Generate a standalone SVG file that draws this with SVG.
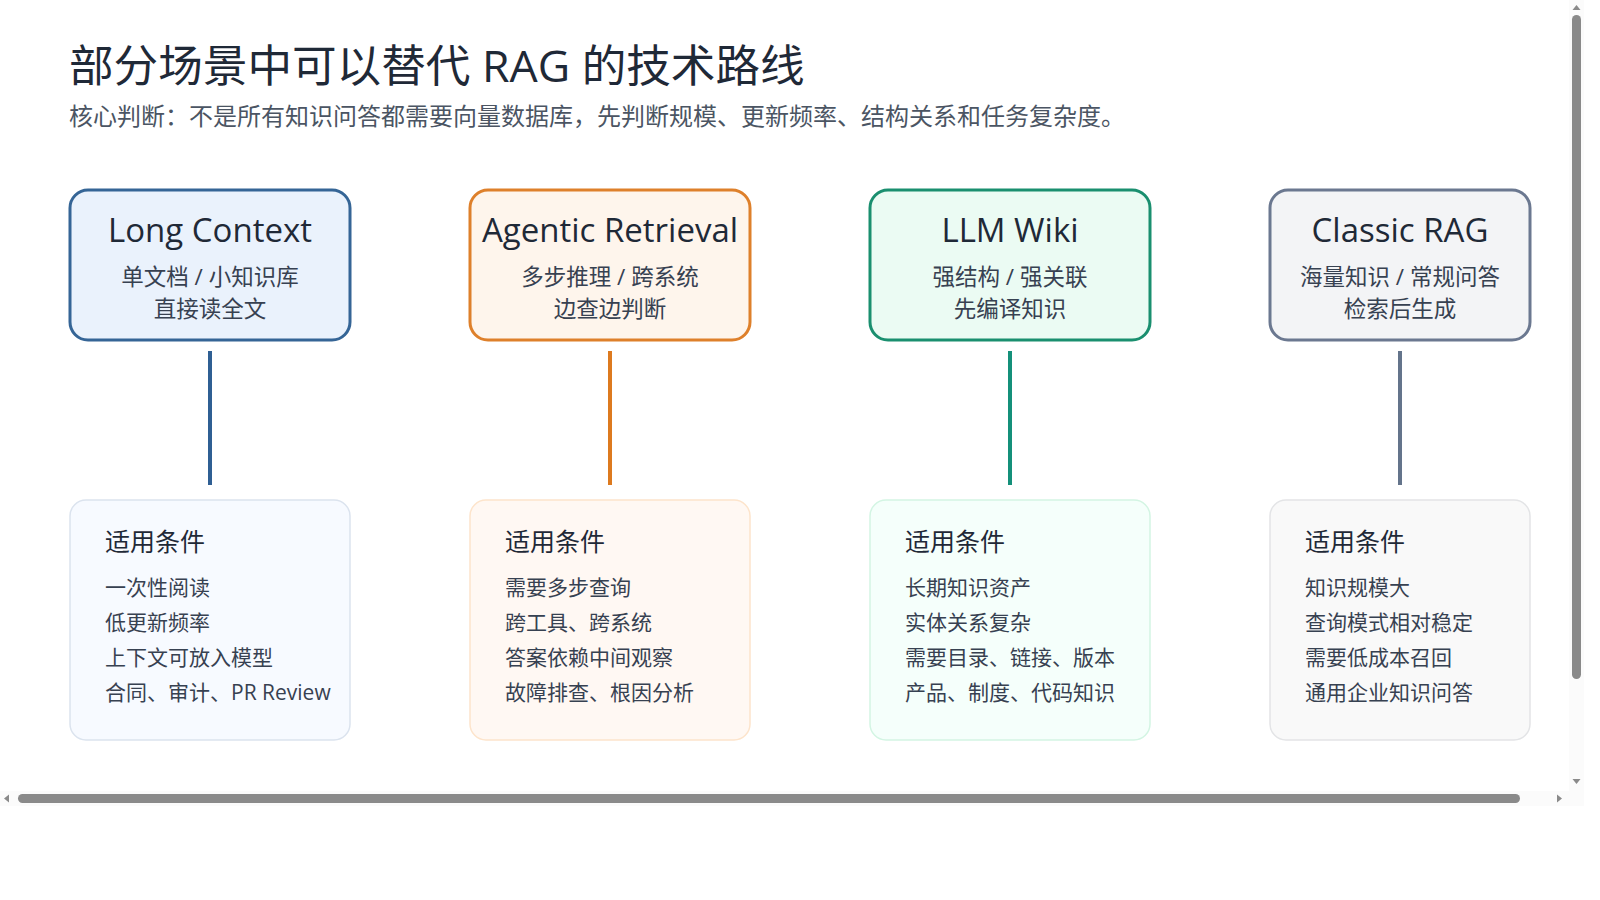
<svg xmlns="http://www.w3.org/2000/svg" width="1600" height="900" viewBox="0 0 1600 900">
<style>
text{font-family:"Open Sans","Noto Sans CJK SC",sans-serif;}
.title{font-size:44.6px;fill:#1f2937;}
.sub{font-size:24px;fill:#4b5563;}
.nh{font-size:33px;fill:#1f2937;text-anchor:middle;}
.ns{font-size:22.5px;fill:#374151;text-anchor:middle;}
.ch{font-size:25px;fill:#1f2937;}
.ci{font-size:21px;fill:#374151;}
.conn{stroke-width:4;fill:none;}
</style>
<rect x="0" y="0" width="1600" height="900" fill="#ffffff"/>
<text class="title" x="69" y="82">部分场景中可以替代 RAG 的技术路线</text>
<text class="sub" x="69" y="125">核心判断：不是所有知识问答都需要向量数据库，先判断规模、更新频率、结构关系和任务复杂度。</text>

<g id="connectors">
<line class="conn" x1="210" y1="351" x2="210" y2="485" stroke="#2f5f93"/>
<line class="conn" x1="610" y1="351" x2="610" y2="485" stroke="#dd7a1f"/>
<line class="conn" x1="1010" y1="351" x2="1010" y2="485" stroke="#14907a"/>
<line class="conn" x1="1400" y1="351" x2="1400" y2="485" stroke="#64748b"/>
</g>

<g id="long-context">
<rect x="70" y="190" width="280" height="150" rx="18" fill="#eaf2fc" stroke="#356596" stroke-width="3"/>
<text class="nh" x="210" y="242">Long Context</text>
<text class="ns" x="210" y="285">单文档 / 小知识库</text>
<text class="ns" x="210" y="317">直接读全文</text>
</g>
<g id="agentic-retrieval">
<rect x="470" y="190" width="280" height="150" rx="18" fill="#fef5ec" stroke="#de802b" stroke-width="3"/>
<text class="nh" x="610" y="242">Agentic Retrieval</text>
<text class="ns" x="610" y="285">多步推理 / 跨系统</text>
<text class="ns" x="610" y="317">边查边判断</text>
</g>
<g id="llm-wiki">
<rect x="870" y="190" width="280" height="150" rx="18" fill="#ebfbf3" stroke="#1a8f6f" stroke-width="3"/>
<text class="nh" x="1010" y="242">LLM Wiki</text>
<text class="ns" x="1010" y="285">强结构 / 强关联</text>
<text class="ns" x="1010" y="317">先编译知识</text>
</g>
<g id="classic-rag">
<rect x="1270" y="190" width="260" height="150" rx="18" fill="#f3f4f6" stroke="#6b7890" stroke-width="3"/>
<text class="nh" x="1400" y="242">Classic RAG</text>
<text class="ns" x="1400" y="285">海量知识 / 常规问答</text>
<text class="ns" x="1400" y="317">检索后生成</text>
</g>

<g id="cond-long-context">
<rect x="70" y="500" width="280" height="240" rx="16" fill="#f7faff" stroke="#dbe3ee" stroke-width="1.5"/>
<text class="ch" x="105" y="551">适用条件</text>
<text class="ci" x="105" y="595">一次性阅读</text>
<text class="ci" x="105" y="630">低更新频率</text>
<text class="ci" x="105" y="665">上下文可放入模型</text>
<text class="ci" x="105" y="700">合同、审计、PR Review</text>
</g>
<g id="cond-agentic-retrieval">
<rect x="470" y="500" width="280" height="240" rx="16" fill="#fff8f3" stroke="#fde4cb" stroke-width="1.5"/>
<text class="ch" x="505" y="551">适用条件</text>
<text class="ci" x="505" y="595">需要多步查询</text>
<text class="ci" x="505" y="630">跨工具、跨系统</text>
<text class="ci" x="505" y="665">答案依赖中间观察</text>
<text class="ci" x="505" y="700">故障排查、根因分析</text>
</g>
<g id="cond-llm-wiki">
<rect x="870" y="500" width="280" height="240" rx="16" fill="#f5fffb" stroke="#d3f5e3" stroke-width="1.5"/>
<text class="ch" x="905" y="551">适用条件</text>
<text class="ci" x="905" y="595">长期知识资产</text>
<text class="ci" x="905" y="630">实体关系复杂</text>
<text class="ci" x="905" y="665">需要目录、链接、版本</text>
<text class="ci" x="905" y="700">产品、制度、代码知识</text>
</g>
<g id="cond-classic-rag">
<rect x="1270" y="500" width="260" height="240" rx="16" fill="#f9f9f9" stroke="#e3e4e6" stroke-width="1.5"/>
<text class="ch" x="1305" y="551">适用条件</text>
<text class="ci" x="1305" y="595">知识规模大</text>
<text class="ci" x="1305" y="630">查询模式相对稳定</text>
<text class="ci" x="1305" y="665">需要低成本召回</text>
<text class="ci" x="1305" y="700">通用企业知识问答</text>
</g>

<g id="scrollbars">
<rect x="1569" y="0" width="15" height="806" fill="#fbfbfb"/>
<rect x="0" y="791" width="1584" height="15" fill="#fbfbfb"/>
<rect x="1572" y="15" width="9" height="664" rx="4.5" fill="#8a8a8a"/>
<rect x="18" y="794" width="1502" height="9" rx="4.5" fill="#8a8a8a"/>
<path d="M1572.5 10 L1576.5 5 L1580.5 10 Z" fill="#8a8a8a"/>
<path d="M1572.5 779 L1576.5 784 L1580.5 779 Z" fill="#8a8a8a"/>
<path d="M9 794.5 L4 798.5 L9 802.5 Z" fill="#8a8a8a"/>
<path d="M1557 794.5 L1562 798.5 L1557 802.5 Z" fill="#8a8a8a"/>
</g>
</svg>
